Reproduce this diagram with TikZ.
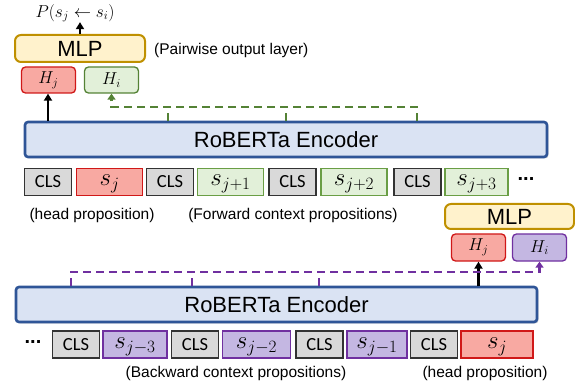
\documentclass[tikz,border=0pt]{standalone}
\usepackage{fontspec}
\setmainfont{Liberation Sans}
\newfontfamily\clsfont{Carlito}
\usetikzlibrary{arrows.meta,shadows}
\definecolor{clsfill}{HTML}{D9D9D9}
\definecolor{clsdraw}{HTML}{333333}
\definecolor{redfill}{HTML}{F8A9A2}
\definecolor{reddraw}{HTML}{D01818}
\definecolor{grnfill}{HTML}{E2F0D9}
\definecolor{grndraw}{HTML}{6A9E45}
\definecolor{grndash}{HTML}{548235}
\definecolor{purfill}{HTML}{C4B7E2}
\definecolor{purdraw}{HTML}{7030A0}
\definecolor{encfill}{HTML}{DAE3F3}
\definecolor{encdraw}{HTML}{2F5597}
\definecolor{mlpfill}{HTML}{FFF2CC}
\definecolor{mlpdraw}{HTML}{BF9000}
\tikzset{
  tok/.style={draw, line width=1.5pt, minimum height=27pt, inner sep=0pt, anchor=center},
  clsbox/.style={tok, fill=clsfill, draw=clsdraw, minimum width=47pt, font=\clsfont\fontsize{18.5}{20}\selectfont},
  stok/.style={tok, font=\fontsize{24}{26}\selectfont, text depth=4pt, text height=12pt},
  redtok/.style={stok, fill=redfill, draw=reddraw, minimum width=66pt},
  grntok/.style={stok, fill=grnfill, draw=grndraw, minimum width=66pt},
  purtok/.style={stok, fill=purfill, draw=purdraw, minimum width=64pt},
  encbox/.style={draw=encdraw, fill=encfill, line width=2.6pt, rounded corners=3pt, minimum width=522pt, minimum height=35pt, font=\fontsize{22}{26}\selectfont, drop shadow={shadow xshift=1.5pt, shadow yshift=-1.5pt, opacity=0.25}},
  mlpbox/.style={draw=mlpdraw, fill=mlpfill, line width=2pt, rounded corners=6pt, minimum height=25pt, font=\fontsize{22}{26}\selectfont, inner sep=0pt},
  hbox/.style={line width=1.3pt, rounded corners=4pt, minimum width=54pt, minimum height=25pt, inner sep=0pt, font=\fontsize{16.5}{18}\selectfont},
  lbl/.style={font=\fontsize{15.5}{17}\selectfont, inner sep=0pt},
  blackarr/.style={line width=2.5pt, -{Triangle[length=7pt,width=8pt]}},
  gdash/.style={draw=grndash, line width=2.5pt, dash pattern=on 8pt off 5pt},
  pdash/.style={draw=purdraw, line width=2.5pt, dash pattern=on 8pt off 5pt},
}
\begin{document}
\begin{tikzpicture}[x=1pt,y=-1pt]
\useasboundingbox (0,0) rectangle (575,387);
% ---------- top part ----------
\node[encbox] (enc1) at (286,139.5) {RoBERTa Encoder};
\node[clsbox] (c11) at (48,182) {CLS};
\node[redtok] (t11) at (109.5,182) {$s_j$};
\node[clsbox] (c12) at (170,182) {CLS};
\node[grntok] (t12) at (230.5,182) {$s_{j+1}$};
\node[clsbox] (c13) at (292.5,182) {CLS};
\node[grntok] (t13) at (354,182) {$s_{j+2}$};
\node[clsbox] (c14) at (417.5,182) {CLS};
\node[grntok, minimum width=63pt] (t14) at (476.5,182) {$s_{j+3}$};
\node[font=\fontsize{20}{20}\selectfont] (dots1) at (526,179) {\textbf{...}};
\node[lbl] (lh1) at (92,215) {(head proposition)};
\node[lbl] (lf1) at (293,215) {(Forward context propositions)};

\node[mlpbox, minimum width=130pt, minimum height=27pt] (mlp1) at (80,48.5) {MLP};
\node[lbl, anchor=west] (pw) at (154,50) {(Pairwise output layer)};
\node[font=\fontsize{17}{19}\selectfont, inner sep=0pt] (pt) at (75,13) {$P(s_j \leftarrow s_i)$};
\node[hbox, draw=reddraw, fill=redfill, minimum height=26pt] (hj1) at (48.5,80) {$H_j$};
\node[hbox, draw=grndash, fill=grnfill, minimum height=26pt] (hi1) at (111.5,80) {$H_i$};

\draw[blackarr] (mlp1.north) -- (mlp1.north |- pt.south);
\coordinate (e1a) at (48,121);
\draw[blackarr] (e1a) -- (hj1.south -| e1a);
\coordinate (g1) at (168,121);
\coordinate (g2) at (286,121);
\coordinate (g3) at (417,121);
\coordinate (gl) at (417,107);
\draw[gdash] (g1) -- (g1 |- gl);
\draw[gdash] (g2) -- (g2 |- gl);
\draw[gdash, -{Triangle[length=6pt,width=8pt]}] (g3) -- (gl) -| (hi1.south);

% ---------- bottom part ----------
\node[encbox, minimum width=521pt] (enc2) at (276.5,304.5) {RoBERTa Encoder};
\node[font=\fontsize{20}{20}\selectfont] (dots2) at (33,342) {\textbf{...}};
\node[clsbox] (c21) at (76,344.5) {CLS};
\node[purtok] (t21) at (135,344.5) {$s_{j-3}$};
\node[clsbox] (c22) at (195,344.5) {CLS};
\node[purtok, minimum width=68pt] (t22) at (256.5,344.5) {$s_{j-2}$};
\node[clsbox] (c23) at (319.5,344.5) {CLS};
\node[purtok, minimum width=60pt] (t23) at (377,344.5) {$s_{j-1}$};
\node[clsbox] (c24) at (434,344.5) {CLS};
\node[redtok, minimum width=72pt] (t24) at (497,344.5) {$s_j$};
\node[lbl] (lb2) at (236,373) {(Backward context propositions)};
\node[lbl] (lh2) at (485,373) {(head proposition)};

\node[mlpbox, minimum width=129pt] (mlp2) at (509.5,216.5) {MLP};
\node[hbox, draw=reddraw, fill=redfill, minimum height=27pt] (hj2) at (478.5,247.5) {$H_j$};
\node[hbox, draw=purdraw, fill=purfill, minimum height=27pt] (hi2) at (539.5,247.5) {$H_i$};

\coordinate (e2a) at (478.5,286);
\draw[blackarr] (e2a) -- (hj2.south -| e2a);
\coordinate (p1) at (71,286);
\coordinate (p2) at (192,286);
\coordinate (p3) at (319,286);
\coordinate (pl) at (71,272);
\draw[pdash] (p2) -- (p2 |- pl);
\draw[pdash] (p3) -- (p3 |- pl);
\draw[pdash, -{Triangle[length=6pt,width=8pt]}] (p1) -- (pl) -| (hi2.south);
\end{tikzpicture}
\end{document}
